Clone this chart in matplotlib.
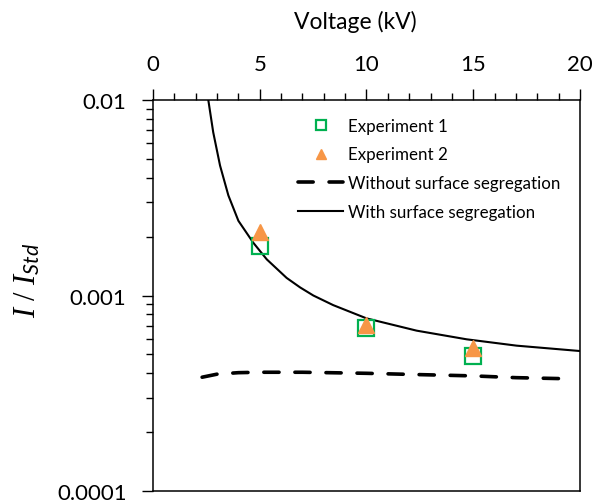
import numpy as np
import matplotlib
matplotlib.use('Agg')
import matplotlib.pyplot as plt
from matplotlib.ticker import FixedLocator, FuncFormatter, LogLocator, NullFormatter

plt.rcParams['font.family'] = ['Lato', 'DejaVu Sans']
plt.rcParams['mathtext.fontset'] = 'custom'
plt.rcParams['mathtext.it'] = 'Liberation Serif:italic'
plt.rcParams['mathtext.rm'] = 'Liberation Serif'
plt.rcParams['mathtext.sf'] = 'Lato:italic'

# measured points
volt_exp = [5, 10, 15]
exp1 = [0.00180, 0.00068, 0.00049]
exp2 = [0.00212, 0.00071, 0.00054]

# model, with surface segregation
volt_seg = [2.59, 2.82, 3.14, 3.53, 4.0, 4.7, 5.33, 6.26, 6.89, 7.51, 8.44, 10, 12.35, 14.69, 17.03, 20]
with_seg = [0.0100, 0.00684, 0.00462, 0.00325, 0.00241, 0.00186, 0.00153, 0.00123, 0.00110,
            0.00100, 0.000893, 0.000764, 0.000661, 0.000597, 0.000554, 0.00052]

# model, without surface segregation
volt_noseg = [2.3, 3, 4, 5, 7, 10, 12, 15, 17, 19.5]
without_seg = [0.000382, 0.000396, 0.000403, 0.000405, 0.000405, 0.000400, 0.000395,
               0.000388, 0.000380, 0.000375]

fig = plt.figure(figsize=(5.97, 5.02), dpi=100)
ax = fig.add_axes([0.2563, 0.0199, 0.7152, 0.7789])

ax.plot(volt_exp, exp1, 's', ms=12, mfc='none', mec='#00B050', mew=1.6, label='Experiment 1', zorder=3)
ax.plot(volt_exp, exp2, '^', ms=11, color='#F79646', mec='#F79646', label='Experiment 2', zorder=4)
ax.plot(volt_noseg, without_seg, color='black', lw=2.6, ls=(0, (4.2, 4.4)),
        dash_capstyle='round', label='Without surface segregation')
ax.plot(volt_seg, with_seg, color='black', lw=1.5, label='With surface segregation')

ax.set_yscale('log')
ax.set_xlim(0, 20)
ax.set_ylim(0.0001, 0.01)

ax.xaxis.tick_top()
ax.xaxis.set_label_position('top')
ax.set_xticks([0, 5, 10, 15, 20])
ax.xaxis.set_minor_locator(FixedLocator(np.arange(0, 21, 1)))
ax.yaxis.set_major_locator(FixedLocator([0.0001, 0.001, 0.01]))
ax.yaxis.set_major_formatter(FuncFormatter(lambda v, p: '{:g}'.format(v) if v >= 0.001 else '0.0001'))
ax.yaxis.set_minor_locator(LogLocator(base=10, subs=np.arange(2, 10)))
ax.yaxis.set_minor_formatter(NullFormatter())

ax.tick_params(which='major', direction='out', length=8, width=1, labelsize=16, pad=11)
ax.tick_params(which='minor', direction='out', length=5, width=1)
for s in ax.spines.values():
    s.set_linewidth(1.1)

ax.set_xlabel('Voltage (kV)', fontsize=16.5)
ax.xaxis.set_label_coords(0.473, 1.185)
ax.set_ylabel(r'$I\ /\ I_{\mathsf{Std}}$', fontsize=22)
ax.yaxis.set_label_coords(-0.26, 0.54)

ax.legend(loc='upper left', bbox_to_anchor=(0.34, 0.955), frameon=False, fontsize=12.2,
          handlelength=2.65, handletextpad=0.3, labelspacing=0.76, borderpad=0,
          borderaxespad=0, markerscale=0.65)

fig.savefig('out.png', dpi=100)
